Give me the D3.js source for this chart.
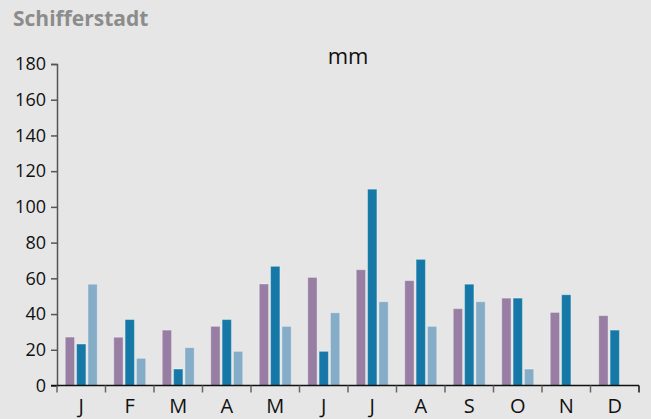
<!DOCTYPE html>
<html><head><meta charset="utf-8">
<script src="https://cdn.jsdelivr.net/npm/d3@7"></script>
<style>
html,body{margin:0;padding:0;background:#e6e6e6;}
svg{display:block;}
text{font-family:"Open Sans",sans-serif;}
</style></head>
<body><svg id="c" width="651" height="419"></svg>
<script>
const months = ["J","F","M","A","M","J","J","A","S","O","N","D"];
const series1 = [27.4, 27.3, 31.3, 33.4, 57.1, 60.8, 65.1, 59, 43.3, 49.2, 41.2, 39.4];
const series2 = [23.5, 37.2, 9.5, 37.2, 67, 19.4, 110.2, 70.9, 57, 49.2, 51.1, 31.3];
const series3 = [57, 15.5, 21.5, 19.4, 33.4, 41, 47.2, 33.4, 47.2, 9.5, null, null];
const yTicks = [0,20,40,60,80,100,120,140,160,180];
const colors = ["#977ea2","#1578a7","#86adc8"];
const title = "Schifferstadt";
const unit = "mm";

const svg = d3.select("#c");
svg.append("rect").attr("width",651).attr("height",419).attr("fill","#e6e6e6");

const x0 = d3.scaleBand().domain(d3.range(months.length)).range([57,639]).padding(0);
const x1 = d3.scaleBand().domain([0,1,2]).range([0,33]).paddingInner(1/11).paddingOuter(0);
const y = d3.scaleLinear().domain([0,180]).range([385.5,64]);
const groupOff = (x0.bandwidth()-33)/2;

svg.append("text").attr("x",13).attr("y",26).attr("fill","#8c8c8c")
  .attr("font-size",21).attr("font-weight","bold").text(title);
svg.append("text").attr("x",348).attr("y",64).attr("text-anchor","middle")
  .attr("font-size",22).attr("fill","#111").text(unit);

const data = [series1,series2,series3];
data.forEach((s,si)=>{
  svg.append("g").selectAll("rect").data(s.map((v,i)=>({v,i})).filter(d=>d.v!=null))
    .join("rect")
    .attr("x",d=>x0(d.i)+groupOff+x1(si)+0.5)
    .attr("width",x1.bandwidth()-1)
    .attr("y",d=>y(d.v)+0.5)
    .attr("height",d=>y(0)-y(d.v)-0.5)
    .attr("fill",colors[si])
    .attr("stroke","rgba(255,255,255,0.35)")
    .attr("stroke-width",1);
});

// y axis
const ya = svg.append("g").attr("transform","translate(57,0)")
  .call(d3.axisLeft(y).tickValues(yTicks).tickSize(6).tickPadding(5));
ya.select(".domain").attr("stroke","#555").attr("stroke-width",1.5);
ya.selectAll(".tick line").attr("stroke","#555").attr("stroke-width",1.5);
ya.selectAll(".tick text").attr("font-size",18).attr("fill","#111").attr("font-family","Open Sans, sans-serif");

// x axis
const xa = svg.append("g").attr("transform",`translate(0,${y(0)})`);
xa.append("line").attr("x1",51).attr("x2",639).attr("stroke","#111").attr("stroke-width",1.5);
const bounds = d3.range(months.length+1).map(i=> i<months.length ? x0(i) : x0.range()[1]);
xa.selectAll("line.t").data(bounds).join("line").attr("class","t")
  .attr("x1",d=>d).attr("x2",d=>d).attr("y1",0).attr("y2",7)
  .attr("stroke",(d,i)=> i===months.length ? "#111" : "#666").attr("stroke-width",1.5);
xa.selectAll("text").data(months).join("text")
  .attr("x",(d,i)=>x0(i)+x0.bandwidth()/2).attr("y",27.5)
  .attr("text-anchor","middle").attr("font-size",20).attr("fill","#111").text(d=>d);
</script></body></html>
